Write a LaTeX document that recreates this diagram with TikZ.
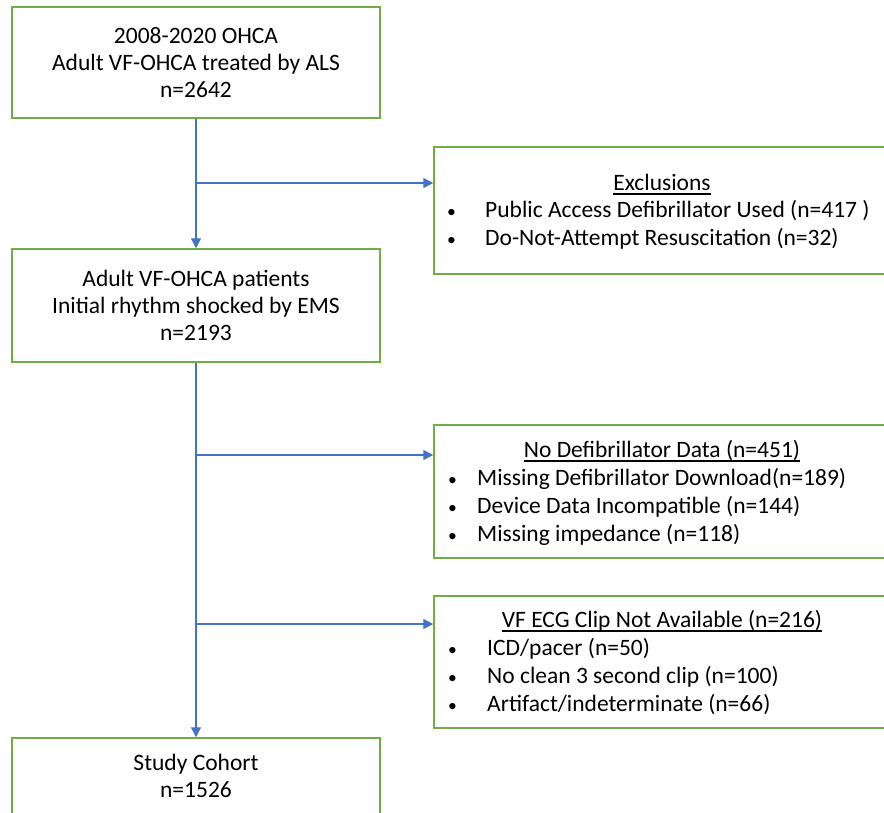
\documentclass[tikz,border=0pt]{standalone}
\usepackage{fontspec}
\setmainfont{Carlito}
\usepackage{tikz}
\usetikzlibrary{arrows.meta,positioning,calc}
\definecolor{boxgreen}{RGB}{112,173,71}
\definecolor{flowblue}{RGB}{68,114,196}
\tikzstyle{stagebox}=[draw=boxgreen, line width=1.5pt, fill=white, minimum width=368pt, align=center, inner sep=0pt]
\tikzstyle{exclbox}=[draw=boxgreen, line width=1.5pt, fill=white, minimum width=456pt, inner sep=0pt]
\tikzstyle{flow}=[draw=flowblue, line width=1.3pt, -{Triangle[length=10pt,width=10pt]}]
\tikzstyle{exclitem}=[anchor=base west, inner sep=0pt]
\tikzstyle{excltitle}=[anchor=base, inner sep=0pt]
\newcommand{\dotmark}{\scalebox{0.75}{\textbullet}}
\newcommand{\headline}[1]{\setbox0\hbox{#1}\rlap{\rule[-4.6pt]{\wd0}{1.8pt}}\box0}

\begin{document}
\begin{tikzpicture}[x=1pt, y=-1pt, font=\fontsize{23.5}{27}\selectfont]
    \useasboundingbox (0,0) rectangle (884,812);
    \clip (0,0) rectangle (884,812);
    % Main stages down the left side
    \node[stagebox, minimum height=111pt] (total) at (196,62.5) {2008-2020 OHCA\\Adult VF-OHCA treated by ALS\\n=2642};
    \node[stagebox, minimum height=113pt] (shocked) at (196,305.5) {Adult VF-OHCA patients\\Initial rhythm shocked by EMS\\n=2193};
    \node[stagebox, minimum height=76pt] (cohort) at (196,776) {Study Cohort\\n=1526};

    % Exclusion boxes on the right
    \node[exclbox, minimum height=127pt] (excl) at (662,210.5) {};
    \node[excltitle] (exclt) at (662,190.5) {\headline{Exclusions}};
    \node[exclitem] (excl1) at (447,217.5) {\makebox[38pt][l]{\dotmark}Public Access Defibrillator Used (n=417 )};
    \node[exclitem] (excl2) at (447,245.5) {\makebox[38pt][l]{\dotmark}Do-Not-Attempt Resuscitation (n=32)};

    \node[exclbox, minimum height=133pt] (nodata) at (662,491.5) {};
    \node[excltitle] (nodatat) at (662,457) {\headline{No Defibrillator Data (n=451)}};
    \node[exclitem] (nodata1) at (448,485) {\makebox[29pt][l]{\dotmark}Missing Defibrillator Download(n=189)};
    \node[exclitem] (nodata2) at (448,513) {\makebox[29pt][l]{\dotmark}Device Data Incompatible (n=144)};
    \node[exclitem] (nodata3) at (448,541.5) {\makebox[29pt][l]{\dotmark}Missing impedance (n=118)};

    \node[exclbox, minimum height=132pt] (noclip) at (662,662) {};
    \node[excltitle] (noclipt) at (662,627) {\headline{VF ECG Clip Not Available (n=216)}};
    \node[exclitem] (noclip1) at (448,655) {\makebox[39pt][l]{\dotmark}ICD/pacer (n=50)};
    \node[exclitem] (noclip2) at (448,683) {\makebox[39pt][l]{\dotmark}No clean 3 second clip (n=100)};
    \node[exclitem] (noclip3) at (448,711) {\makebox[39pt][l]{\dotmark}Artifact/indeterminate (n=66)};

    % Branch points on the main line
    \coordinate (j1) at (196,183);
    \coordinate (j2) at (196,455);
    \coordinate (j3) at (196,624);

    \path[flow] (total) -- (shocked);
    \path[flow] (shocked) -- (cohort);
    \path[flow] (j1) -- (j1 -| excl.west);
    \path[flow] (j2) -- (j2 -| nodata.west);
    \path[flow] (j3) -- (j3 -| noclip.west);
\end{tikzpicture}
\end{document}
